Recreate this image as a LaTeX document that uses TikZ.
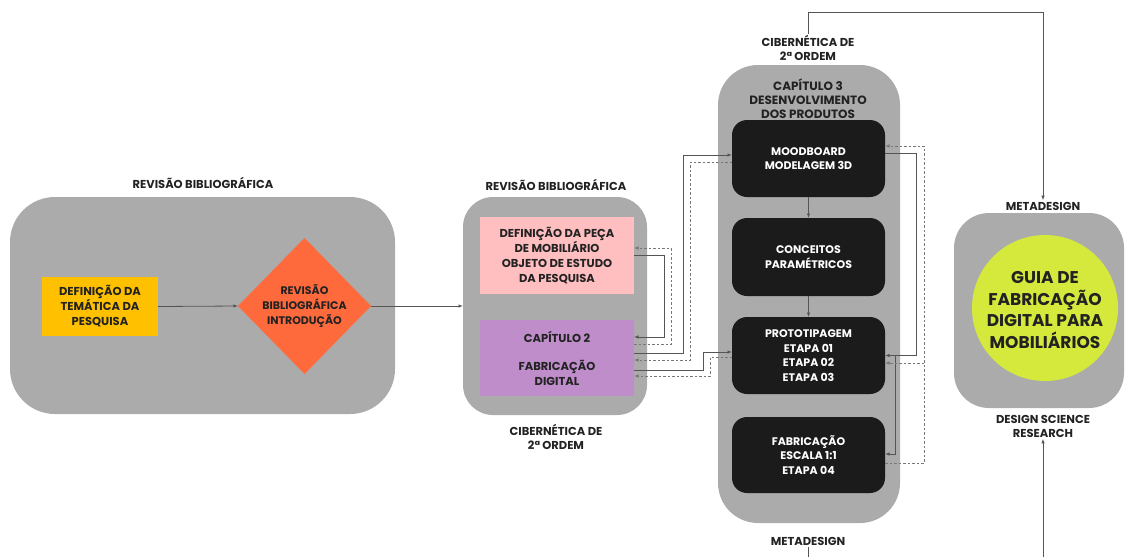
\documentclass[tikz,border=0pt]{standalone}
\usepackage{fontspec}
\setmainfont{Poppins}
\usetikzlibrary{arrows.meta,shapes.geometric}
\definecolor{bggray}{HTML}{ABABAB}
\definecolor{ylw}{HTML}{FFC000}
\definecolor{orng}{HTML}{FF6A3D}
\definecolor{pnk}{HTML}{FFBFC1}
\definecolor{prpl}{HTML}{BF8DCA}
\definecolor{blk}{HTML}{1B1B1B}
\definecolor{lime}{HTML}{D5E83C}
\definecolor{txt}{HTML}{222222}
\definecolor{lncol}{HTML}{555555}
\definecolor{dshcol}{HTML}{777777}
\tikzset{
 panel/.style={fill=bggray, outer sep=0pt, inner sep=0pt},
 cbox/.style={outer sep=0pt, inner sep=0pt, align=center, text=txt, font=\bfseries\fontsize{11.5}{15}\selectfont},
 bbox/.style={fill=blk, rounded corners=15pt, outer sep=0pt, inner sep=0pt, minimum width=153pt, align=center, text=white, font=\bfseries\fontsize{11}{14.5}\selectfont},
 lbl/.style={align=center, text=txt, inner sep=1.5pt, font=\bfseries\fontsize{11.5}{14}\selectfont},
 conn/.style={draw=lncol, line width=0.8pt, -{Latex[length=4.5pt,width=3.5pt]}},
 dconn/.style={conn, draw=dshcol, dash pattern=on 2.5pt off 2pt},
 plainln/.style={draw=lncol, line width=0.8pt},
}
\begin{document}
\begin{tikzpicture}[x=1pt,y=-1pt]
\useasboundingbox (0,0) rectangle (1126,557);
% panels
\node[panel, rounded corners=45pt, minimum width=385, minimum height=217] (g1) at (202.5,305.5) {};
\node[panel, rounded corners=30pt, minimum width=184, minimum height=218] (g2) at (555,306) {};
\node[panel, rounded corners=40pt, minimum width=182, minimum height=458] (g3) at (809,294) {};
\node[panel, rounded corners=35pt, minimum width=170, minimum height=195] (g4) at (1039,310.5) {};
% left
\node[cbox, fill=ylw, minimum width=116, minimum height=59] (yel) at (100,306.5) {DEFINIÇÃO DA\\TEMÁTICA DA\\PESQUISA};
\node[diamond, fill=orng, minimum width=133, minimum height=136, inner sep=0pt, outer sep=0pt] (dia) at (304.5,306) {};
\node[cbox, font=\bfseries\fontsize{11}{15}\selectfont] (diat) at (dia.center) {REVISÃO\\BIBLIOGRÁFICA\\INTRODUÇÃO};
% middle
\node[cbox, fill=pnk, minimum width=154, minimum height=77] (pink) at (557,255.5) {DEFINIÇÃO DA PEÇA\\DE MOBILIÁRIO\\OBJETO DE ESTUDO\\DA PESQUISA};
\node[cbox, fill=prpl, minimum width=154, minimum height=76] (purple) at (557,358) {CAPÍTULO 2\\[13pt]FABRICAÇÃO\\DIGITAL};
% chapter 3
\node[lbl, font=\bfseries\fontsize{12}{14}\selectfont] (c3t) at (808,99) {CAPÍTULO 3\\DESENVOLVIMENTO\\DOS PRODUTOS};
\node[bbox, minimum height=77] (mood) at (808.5,158.5) {MOODBOARD\\MODELAGEM 3D};
\node[bbox, minimum height=78] (conc) at (808.5,257) {CONCEITOS\\PARAMÉTRICOS};
\node[bbox, minimum height=77] (proto) at (808.5,355.5) {PROTOTIPAGEM\\ETAPA 01\\ETAPA 02\\ETAPA 03};
\node[bbox, minimum height=76] (fab) at (808.5,455) {FABRICAÇÃO\\ESCALA 1:1\\ETAPA 04};
% right
\node[circle, fill=lime, minimum size=146, inner sep=0pt] (guia) at (1045,308) {};
\node[align=center, text=txt, inner sep=0pt, font=\bfseries\fontsize{17}{21.5}\selectfont] (guiat) at (1045,310) {GUIA DE\\FABRICAÇÃO\\DIGITAL PARA\\MOBILIÁRIOS};
% labels
\node[lbl] (l1) at (203,183) {REVISÃO BIBLIOGRÁFICA};
\node[lbl] (l2) at (556,185) {REVISÃO BIBLIOGRÁFICA};
\node[lbl] (l3) at (556,437) {CIBERNÉTICA DE\\2ª ORDEM};
\node[lbl] (l4) at (808,48) {CIBERNÉTICA DE\\2ª ORDEM};
\node[lbl] (l5) at (808,541) {METADESIGN};
\node[lbl] (l6) at (1043,206) {METADESIGN};
\node[lbl] (l7) at (1043,426) {DESIGN SCIENCE\\RESEARCH};
% connectors
\draw[conn] (yel.east) -- (dia.west);
\draw[conn] (dia.east) -- (g2.west);
\draw[conn] (mood) -- (conc);
\draw[conn] (conc) -- (proto);
% middle to chapter 3
\draw[conn] (pink.east) -- ++(30,0) |- ([yshift=21pt]purple.east);
\draw[dconn] ([yshift=14pt]purple.east) -- ++(37,0) |- ([yshift=7.5pt]pink.east);
\draw[conn] ([yshift=5pt]purple.east) -- ++(49,0) |- ([yshift=3.5pt]mood.west);
\draw[dconn] ([yshift=-3.5pt]mood.west) -- ++(-42,0) |- ([yshift=-2pt]purple.east);
\draw[conn] ([yshift=-12pt]purple.east) -- ++(69,0) |- ([yshift=3.5pt]proto.west);
\draw[dconn] ([yshift=-1.5pt]proto.west) -- ++(-22,0) |- ([yshift=-18pt]purple.east);
% right side of chapter 3
\draw[conn] ([yshift=5.5pt]mood.east) -- ++(31,0) |- (proto.east);
\draw[conn] ([xshift=10pt]proto.east) |- ([yshift=1pt]fab.east);
\draw[dconn] ([yshift=-8pt]fab.east) -- ++(39,0) |- ([yshift=12.5pt]mood.east);
\coordinate (dj) at (924,363);
\draw[dconn] (dj) -- ([yshift=-7.5pt]proto.east);
% top and bottom
\draw[conn] (l4.north) -- ++(0,-21) -| (l6.north);
\coordinate (b1) at (808,557);
\draw[plainln] (l5.south) -- (b1);
\coordinate (b2) at (1043,557);
\draw[conn] (b2) -- (l7.south);
\end{tikzpicture}
\end{document}
